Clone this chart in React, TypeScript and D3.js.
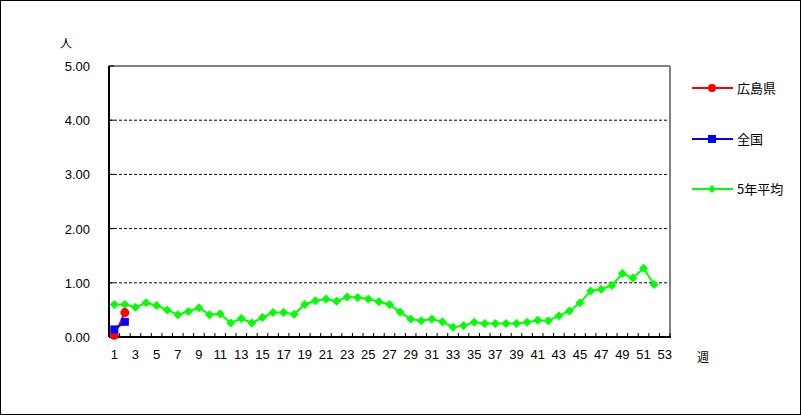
import React from "react";
import * as d3 from "d3";

const weeks: number[] = Array.from({ length: 53 }, (_, i) => i + 1);
const hiroshima: number[] = [0.03, 0.45];
const zenkoku: number[] = [0.14, 0.28];
const avg5: number[] = [
  0.6, 0.6, 0.55, 0.63, 0.58, 0.5, 0.41, 0.47, 0.54, 0.41,
  0.43, 0.26, 0.34, 0.26, 0.36, 0.45, 0.45, 0.42, 0.6, 0.67,
  0.7, 0.66, 0.74, 0.73, 0.7, 0.65, 0.6, 0.46, 0.33, 0.3,
  0.33, 0.28, 0.18, 0.21, 0.27, 0.25, 0.25, 0.25, 0.25, 0.27,
  0.31, 0.3, 0.39, 0.48, 0.63, 0.85, 0.88, 0.95, 1.17, 1.09,
  1.27, 0.97,
];
const yTicks: number[] = [0, 1, 2, 3, 4, 5];
const seriesNames: string[] = ["広島県", "全国", "5年平均"];

const W = 801, H = 415;
const L = 109, R = 670, T = 66, B = 337;
const font = "'Liberation Sans', Arial, sans-serif";
const cjk = "'Noto Sans CJK JP', sans-serif";

export default function App() {
  const x = d3.scaleBand<number>().domain(weeks).range([L, R]);
  const cx = (w: number) => (x(w) as number) + x.bandwidth() / 2;
  const y = d3.scaleLinear().domain([0, 5]).range([B, T]);
  const line = d3.line<number>().x((_, i) => cx(weeks[i])).y((v) => y(v));

  const diamond = (px: number, py: number, r = 4.5) =>
    `M${px},${py - r}L${px + r},${py}L${px},${py + r}L${px - r},${py}Z`;

  const legendY = [88, 139, 189];
  const colors = ["#ff0000", "#0000ff", "#00ff00"];

  return (
    <svg width={W} height={H} style={{ position: "absolute", left: 0, top: 0 }}>
      <rect x={0.5} y={0.5} width={W - 1} height={H - 1} fill="#fff" stroke="#000" />
      {/* gridlines */}
      {yTicks.filter((t) => t > 0 && t < 5).map((t) => (
        <line key={t} x1={L} x2={R} y1={y(t)} y2={y(t)} stroke="#000" strokeDasharray="3,2" strokeWidth={1} />
      ))}
      {/* frame */}
      <line x1={L} x2={R} y1={T} y2={T} stroke="#808080" strokeWidth={2} />
      <line x1={R} x2={R} y1={T} y2={B} stroke="#808080" strokeWidth={2} />
      <line x1={L} x2={L} y1={T} y2={B} stroke="#000" strokeWidth={2} />
      <line x1={L} x2={R + 1} y1={B} y2={B} stroke="#000" strokeWidth={2} />
      {/* y ticks */}
      {yTicks.map((t) => (
        <g key={t}>
          <line x1={L} x2={L + 5} y1={y(t)} y2={y(t)} stroke="#000" />
          <text x={90} y={y(t) + 5} textAnchor="end" fontSize={13} fontFamily={font}>
            {t.toFixed(2)}
          </text>
        </g>
      ))}
      {/* x ticks */}
      {weeks.map((w) => (
        <line key={w} x1={x(w) as number} x2={x(w) as number} y1={B} y2={B - 4} stroke="#000" />
      ))}
      <line x1={R} x2={R} y1={B} y2={B - 4} stroke="#000" />
      {weeks.filter((w) => w % 2 === 1).map((w) => (
        <text key={w} x={cx(w)} y={359} textAnchor="middle" fontSize={13} fontFamily={font}>
          {w}
        </text>
      ))}
      <text x={703} y={362} textAnchor="middle" fontSize={12} fontFamily={cjk}>週</text>
      <text x={66} y={48} textAnchor="middle" fontSize={12} fontFamily={cjk}>人</text>

      {/* series */}
      <path d={line(avg5) as string} fill="none" stroke="#00ff00" strokeWidth={2} />
      {avg5.map((v, i) => (
        <path key={i} d={diamond(cx(weeks[i]), y(v))} fill="#00ff00" />
      ))}
      <path d={line(hiroshima) as string} fill="none" stroke="#ff0000" strokeWidth={2} />
      {hiroshima.map((v, i) => (
        <circle key={i} cx={cx(weeks[i])} cy={y(v)} r={4.5} fill="#ff0000" />
      ))}
      <path d={line(zenkoku) as string} fill="none" stroke="#0000ff" strokeWidth={2} />
      {zenkoku.map((v, i) => (
        <rect key={i} x={cx(weeks[i]) - 4} y={y(v) - 4} width={8} height={8} fill="#0000ff" />
      ))}

      {/* legend */}
      {seriesNames.map((n, i) => (
        <g key={n}>
          <line x1={692} x2={733} y1={legendY[i]} y2={legendY[i]} stroke={colors[i]} strokeWidth={2} />
          {i === 0 && <circle cx={712} cy={legendY[i]} r={4} fill={colors[i]} />}
          {i === 1 && <rect x={708} y={legendY[i] - 4} width={8} height={8} fill={colors[i]} />}
          {i === 2 && <path d={diamond(712, legendY[i], 4)} fill={colors[i]} />}
          <text x={737} y={legendY[i] + 5} fontSize={13} fontFamily={cjk}>{n}</text>
        </g>
      ))}
    </svg>
  );
}
